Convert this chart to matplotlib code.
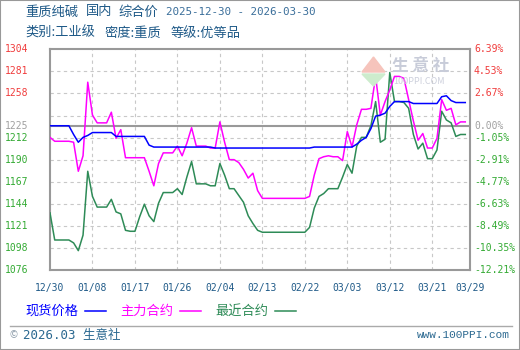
import numpy as np
import pandas as pd
import matplotlib
matplotlib.use('Agg')
import matplotlib.pyplot as plt
from matplotlib.lines import Line2D
from matplotlib.patches import Rectangle
from matplotlib.transforms import blended_transform_factory

plt.rcParams['font.family'] = ['Noto Sans CJK SC', 'DejaVu Sans']

# --- Data ---
dates = pd.date_range('2025-12-30', periods=89, freq='D')

spot = ([1225] * 5 + [1216, 1208, 1213, 1215, 1218] + [1218] * 4 + [1214] * 7
        + [1205] + [1203] * 13 + [1202] * 21 + [1203] * 9
        + [1206, 1210, 1213, 1222, 1235, 1236, 1238, 1245, 1250]
        + [1250] * 3 + [1248] * 6 + [1255, 1256, 1251] + [1249] * 3)

main_contract = ([1213, 1209, 1209, 1209, 1209, 1208, 1178, 1194, 1270, 1236,
                  1228, 1228, 1228, 1239, 1212, 1221, 1192, 1192, 1192, 1192,
                  1192, 1178, 1163, 1186, 1197, 1197, 1197, 1204, 1194, 1207,
                  1223, 1204, 1204, 1204, 1202, 1202, 1229, 1208, 1190, 1190,
                  1187, 1180, 1171, 1176, 1158, 1150] + [1150] * 9
                 + [1152, 1174, 1191, 1193, 1194, 1193, 1193, 1189, 1219, 1203,
                    1226, 1242, 1242, 1243, 1276, 1236, 1250, 1262, 1276, 1276,
                    1274, 1252, 1230, 1210, 1217, 1202, 1202, 1212, 1252, 1241,
                    1243, 1226, 1229, 1229])

near_contract = ([1135, 1107, 1107, 1107, 1107, 1104, 1096, 1112, 1178, 1152,
                  1141, 1141, 1141, 1149, 1136, 1134, 1117, 1116, 1116, 1131,
                  1144, 1132, 1126, 1145, 1156, 1156, 1156, 1160, 1154, 1172,
                  1188, 1165, 1165, 1165, 1163, 1163, 1186, 1174, 1160, 1160,
                  1153, 1146, 1132, 1124, 1117, 1115] + [1115] * 9
                 + [1120, 1140, 1152, 1155, 1160, 1160, 1160, 1172, 1185, 1176,
                    1204, 1213, 1213, 1225, 1250, 1208, 1211, 1280, 1250, 1250,
                    1249, 1243, 1216, 1201, 1207, 1191, 1191, 1200, 1240, 1231,
                    1228, 1214, 1216, 1216])

base_price = 1225
grid_values = [1304, 1281.2, 1258.4, 1235.6, 1212.8, 1190, 1167.2, 1144.4,
               1121.6, 1098.8, 1076]
left_labels = ['1304', '1281', '1258', None, '1212', '1190', '1167', '1144',
               '1121', '1098', '1076']
right_labels = ['6.39%', '4.53%', '2.67%', None, '-1.05%', '-2.91%', '-4.77%',
                '-6.63%', '-8.49%', '-10.35%', '-12.21%']
xtick_dates = ['2025-12-30', '2026-01-08', '2026-01-17', '2026-01-26',
               '2026-02-04', '2026-02-13', '2026-02-22', '2026-03-03',
               '2026-03-12', '2026-03-21', '2026-03-29']
xtick_labels = ['12/30', '01/08', '01/17', '01/26', '02/04', '02/13', '02/22',
                '03/03', '03/12', '03/21', '03/29']

W, H = 520, 350
RED, GRAY, GREEN = '#f03c3c', '#a0a0a0', '#33aa33'
TEAL = '#1f5a88'
MONO = ['DejaVu Sans Mono', 'Noto Sans CJK SC']


def fx(px):
    return px / W


def fy(py):
    return 1 - py / H


fig = plt.figure(figsize=(W / 100, H / 100), dpi=100)
ax = fig.add_axes([fx(50), fy(270), fx(420), (270 - 49.3) / H])

# grid
for v in grid_values[1:-1]:
    ax.axhline(v, color='#c8c8c8', lw=0.8, ls=(0, (3, 3)), zorder=1)
xt = pd.to_datetime(xtick_dates)
for d in xt[1:-1]:
    ax.axvline(d, color='#c8c8c8', lw=0.8, ls=(0, (3, 3)), zorder=1)
ax.axhline(base_price, color='#999999', lw=1.5, zorder=2)

ax.plot(dates, near_contract, color='#2e8b57', lw=1.1, zorder=3)
ax.plot(dates, main_contract, color='#ff00ff', lw=1.1, zorder=4)
ax.plot(dates, spot, color='#0000ff', lw=1.1, zorder=5)

ax.set_ylim(1076, 1304)
ax.set_xlim(pd.Timestamp('2025-12-30'), pd.Timestamp('2026-03-29'))
ax.set_yticks([])
ax.set_xticks(xt)
ax.set_xticklabels(xtick_labels, family=MONO, fontsize=7, color=TEAL)
ax.tick_params(axis='x', length=0, pad=9)
for s in ax.spines.values():
    s.set_color('#999999')
    s.set_linewidth(1.5)

# y labels on both sides
tr = blended_transform_factory(fig.transFigure, ax.transData)
for v, ll, rl in zip(grid_values, left_labels, right_labels):
    if ll is None:
        continue
    c = RED if v > base_price else GREEN
    ax.text(fx(5), v, ll, transform=tr, family=MONO, fontsize=7, color=c,
            va='center', ha='left', clip_on=False)
    ax.text(fx(474), v, rl, transform=tr, family=MONO, fontsize=7, color=c,
            va='center', ha='left', clip_on=False)
ax.text(fx(5), base_price, str(base_price), transform=tr, family=MONO,
        fontsize=7, color=GRAY, va='center', ha='left', clip_on=False)
ax.text(fx(474), base_price, '0.00%', transform=tr, family=MONO, fontsize=7,
        color=GRAY, va='center', ha='left', clip_on=False)

# watermark
fig.text(fx(392), fy(66), '生 意 社', fontsize=12, color='#c8ccd9',
         va='center', ha='left', fontweight='bold')
fig.text(fx(393), fy(81), '100PPI.COM', fontsize=6.5, color='#cdd0dc',
         va='center', ha='left')
fig.add_artist(plt.Polygon([[fx(362), fy(72)], [fx(385), fy(72)], [fx(373.5), fy(57)]],
                           closed=True, color='#f6c4bc', transform=fig.transFigure))
fig.add_artist(plt.Polygon([[fx(362), fy(74)], [fx(385), fy(74)], [fx(373.5), fy(86)]],
                           closed=True, color='#cdeccd', transform=fig.transFigure))

# titles
for txt, x0 in [('重质纯碱', 25), ('国内', 86), ('综合价', 118)]:
    fig.text(fx(x0), fy(12), txt, fontsize=9.5, color=TEAL, va='center', ha='left')
fig.text(fx(166), fy(12), '2025-12-30 - 2026-03-30', family=MONO, fontsize=7.8,
         color='#3a6e9a', va='center', ha='left')
for txt, x0 in [('类别:工业级', 25), ('密度:重质', 104), ('等级:优等品', 171)]:
    fig.text(fx(x0), fy(33), txt, fontsize=9.5, color=TEAL, va='center', ha='left')

# legend
legend_items = [('现货价格', '#0000ff', 25), ('主力合约', '#ff00ff', 120),
                ('最近合约', '#2e8b57', 215)]
for name, col, x0 in legend_items:
    fig.text(fx(x0), fy(311), name, fontsize=9.5, color=col, va='center', ha='left')
    fig.add_artist(Line2D([fx(x0 + 60), fx(x0 + 81)], [fy(311), fy(311)],
                          color=col, lw=1.1, transform=fig.transFigure))

# footer
fig.add_artist(Line2D([fx(10), fx(512)], [fy(326), fy(326)], color='#aaaaaa',
                      lw=1, transform=fig.transFigure))
fig.text(fx(10), fy(335), '©', fontsize=7, color='#8a9aa8', va='center', ha='left')
fig.text(fx(23), fy(335), '2026.03 生意社', family=MONO, fontsize=9,
         color='#2a6890', va='center', ha='left')
fig.text(fx(510), fy(335), 'www.100PPI.com', family=['Liberation Mono'],
         fontsize=8, color='#2a6890', va='center', ha='right')

fig.add_artist(Rectangle((0, 0), 1, 1, transform=fig.transFigure, fill=False,
                         edgecolor='#999999', lw=1.5))

fig.savefig('out.png', dpi=100)
